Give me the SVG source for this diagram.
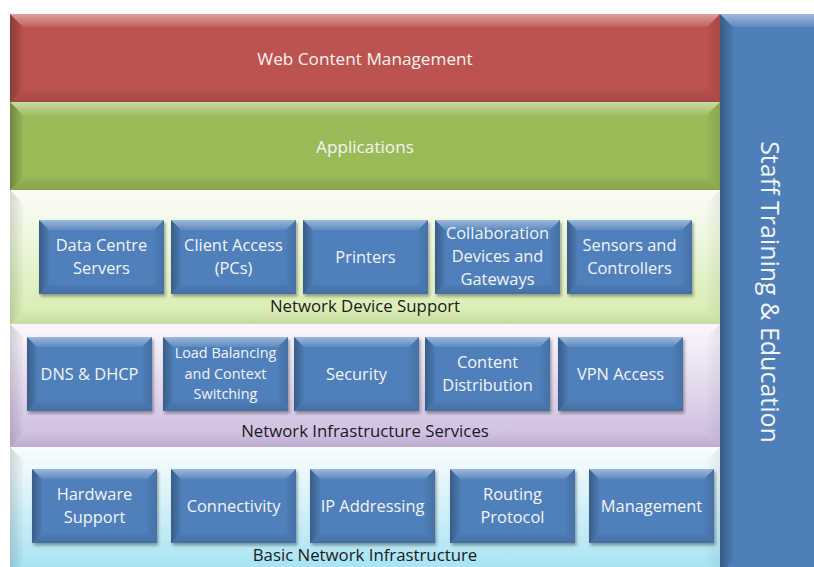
<svg xmlns="http://www.w3.org/2000/svg" xmlns:xlink="http://www.w3.org/1999/xlink" width="814" height="567" viewBox="0 0 814 567">
<defs>
<linearGradient id="gTop" x1="0" y1="0" x2="0" y2="1"><stop offset="0" stop-color="#fff" stop-opacity="0.45"/><stop offset="1" stop-color="#fff" stop-opacity="0.08"/></linearGradient>
<linearGradient id="gLeft" x1="0" y1="0" x2="1" y2="0"><stop offset="0" stop-color="#000" stop-opacity="0.28"/><stop offset="1" stop-color="#000" stop-opacity="0.04"/></linearGradient>
<linearGradient id="gRight" x1="1" y1="0" x2="0" y2="0"><stop offset="0" stop-color="#000" stop-opacity="0.12"/><stop offset="1" stop-color="#000" stop-opacity="0.02"/></linearGradient>
<linearGradient id="gBot" x1="0" y1="1" x2="0" y2="0"><stop offset="0" stop-color="#000" stop-opacity="0.14"/><stop offset="1" stop-color="#000" stop-opacity="0.02"/></linearGradient>
<linearGradient id="gLG" x1="0" y1="0" x2="0" y2="1"><stop offset="0" stop-color="#f7fbef"/><stop offset="0.15" stop-color="#f6fbee"/><stop offset="1" stop-color="#d5ecac"/></linearGradient>
<linearGradient id="gPu" x1="0" y1="0" x2="0" y2="1"><stop offset="0" stop-color="#f6f2f9"/><stop offset="0.15" stop-color="#f4eff8"/><stop offset="1" stop-color="#ccb9df"/></linearGradient>
<linearGradient id="gCy" x1="0" y1="0" x2="0" y2="1"><stop offset="0" stop-color="#f3fbfd"/><stop offset="0.15" stop-color="#eef9fc"/><stop offset="1" stop-color="#a2e1f2"/></linearGradient>
<filter id="sh" x="-10%" y="-10%" width="125%" height="130%"><feDropShadow dx="1.5" dy="2.5" stdDeviation="1.5" flood-color="#000" flood-opacity="0.35"/></filter>
<g id="box">
<rect x="0" y="0" width="125" height="74" fill="#4f80bb"/>
<polygon points="0,0 125,0 115,10 10,10" fill="url(#gTop)"/>
<polygon points="0,0 10,10 10,64 0,74" fill="url(#gLeft)"/>
<polygon points="125,0 125,74 115,64 115,10" fill="url(#gRight)"/>
<polygon points="0,74 10,64 115,64 125,74" fill="url(#gBot)"/>
</g>
</defs>
<style>
text{font-family:"Open Sans","Noto Sans",sans-serif;text-anchor:middle}
.w{fill:#f4f4f4;font-size:17.2px}
.b{fill:#f4f4f4;font-size:16.4px}
.s{fill:#f4f4f4;font-size:14.4px}
.k{fill:#1a1a1a;font-size:16.8px}
.v{fill:#f4f4f4;font-size:25px}
.bt{fill:url(#gTop)}.bl{fill:url(#gLeft)}.br{fill:url(#gRight)}.bb{fill:url(#gBot)}
</style>
<rect width="814" height="567" fill="#fff"/>

<g id="web-content-management">
<rect x="10" y="14" width="710" height="88" fill="#bd5350"/>
<polygon class="bt" points="10,14 720,14 707,27 23,27"/>
<polygon class="bl" points="10,14 23,27 23,89 10,102"/>
<polygon class="br" points="720,14 720,102 707,89 707,27"/>
<polygon class="bb" points="10,102 23,89 707,89 720,102"/>
<text class="w" x="365" y="65">Web Content Management</text>
</g>

<g id="applications">
<rect x="10" y="102" width="710" height="88" fill="#9bbb59"/>
<polygon class="bt" points="10,102 720,102 707,115 23,115"/>
<polygon class="bl" points="10,102 23,115 23,177 10,190"/>
<polygon class="br" points="720,102 720,190 707,177 707,115"/>
<polygon class="bb" points="10,190 23,177 707,177 720,190"/>
<text class="w" x="365" y="153">Applications</text>
</g>

<g id="network-device-support">
<rect x="10" y="190" width="710" height="134" fill="url(#gLG)"/>
<polygon class="bt" points="10,190 720,190 707,203 23,203"/>
<polygon class="bl" points="10,190 23,203 23,311 10,324" opacity="0.5"/>
<polygon class="br" points="720,190 720,324 707,311 707,203" opacity="0.5"/>
<polygon class="bb" points="10,324 23,311 707,311 720,324" opacity="0.5"/>
<text class="k" x="365" y="312">Network Device Support</text>
</g>

<g id="network-infrastructure-services">
<rect x="10" y="324" width="710" height="123" fill="url(#gPu)"/>
<polygon class="bt" points="10,324 720,324 707,337 23,337"/>
<polygon class="bl" points="10,324 23,337 23,434 10,447" opacity="0.5"/>
<polygon class="br" points="720,324 720,447 707,434 707,337" opacity="0.5"/>
<polygon class="bb" points="10,447 23,434 707,434 720,447" opacity="0.5"/>
<text class="k" x="365" y="437">Network Infrastructure Services</text>
</g>

<g id="basic-network-infrastructure">
<rect x="10" y="447" width="710" height="130" fill="url(#gCy)"/>
<polygon class="bt" points="10,447 720,447 707,460 23,460"/>
<polygon class="bl" points="10,447 23,460 23,564 10,577" opacity="0.5"/>
<polygon class="br" points="720,447 720,577 707,564 707,460" opacity="0.5"/>
<text class="k" x="365" y="561">Basic Network Infrastructure</text>
</g>

<g id="staff-training">
<rect x="720" y="14" width="110" height="560" fill="#4f7fb9"/>
<polygon class="bt" points="720,14 830,14 817,27 733,27"/>
<polygon class="bl" points="720,14 733,27 733,561 720,574"/>
<text class="v" transform="translate(761,292) rotate(90)">Staff Training &amp; Education</text>
</g>

<g id="data-centre-servers"><use xlink:href="#box" x="39" y="220" filter="url(#sh)"/><text class="b" x="101.5" y="251">Data Centre</text><text class="b" x="101.5" y="274">Servers</text></g>
<g id="client-access"><use xlink:href="#box" x="171" y="220" filter="url(#sh)"/><text class="b" x="233.5" y="251">Client Access</text><text class="b" x="233.5" y="274">(PCs)</text></g>
<g id="printers"><use xlink:href="#box" x="303" y="220" filter="url(#sh)"/><text class="b" x="365.5" y="263">Printers</text></g>
<g id="collaboration"><use xlink:href="#box" x="435" y="220" filter="url(#sh)"/><text class="b" x="497.5" y="239">Collaboration</text><text class="b" x="497.5" y="262">Devices and</text><text class="b" x="497.5" y="285">Gateways</text></g>
<g id="sensors"><use xlink:href="#box" x="567" y="220" filter="url(#sh)"/><text class="b" x="629.5" y="251">Sensors and</text><text class="b" x="629.5" y="274">Controllers</text></g>

<g id="dns-dhcp"><use xlink:href="#box" x="27" y="337" filter="url(#sh)"/><text class="b" x="89.5" y="380">DNS &amp; DHCP</text></g>
<g id="load-balancing"><use xlink:href="#box" x="163" y="337" filter="url(#sh)"/><text class="s" x="225.5" y="358">Load Balancing</text><text class="s" x="225.5" y="379">and Context</text><text class="s" x="225.5" y="399">Switching</text></g>
<g id="security"><use xlink:href="#box" x="294" y="337" filter="url(#sh)"/><text class="b" x="356.5" y="380">Security</text></g>
<g id="content-distribution"><use xlink:href="#box" x="425" y="337" filter="url(#sh)"/><text class="b" x="487.5" y="368">Content</text><text class="b" x="487.5" y="391">Distribution</text></g>
<g id="vpn-access"><use xlink:href="#box" x="558" y="337" filter="url(#sh)"/><text class="b" x="620.5" y="380">VPN Access</text></g>

<g id="hardware-support"><use xlink:href="#box" x="32" y="469" filter="url(#sh)"/><text class="b" x="94.5" y="500">Hardware</text><text class="b" x="94.5" y="523">Support</text></g>
<g id="connectivity"><use xlink:href="#box" x="171" y="469" filter="url(#sh)"/><text class="b" x="233.5" y="512">Connectivity</text></g>
<g id="ip-addressing"><use xlink:href="#box" x="310" y="469" filter="url(#sh)"/><text class="b" x="372.5" y="512">IP Addressing</text></g>
<g id="routing-protocol"><use xlink:href="#box" x="450" y="469" filter="url(#sh)"/><text class="b" x="512.5" y="500">Routing</text><text class="b" x="512.5" y="523">Protocol</text></g>
<g id="management"><use xlink:href="#box" x="589" y="469" filter="url(#sh)"/><text class="b" x="651.5" y="512">Management</text></g>

<g id="connectors"/>
</svg>
